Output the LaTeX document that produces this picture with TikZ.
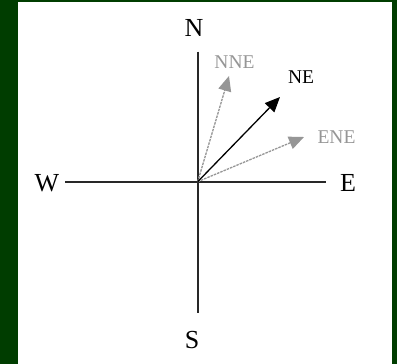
\documentclass[tikz,border=0pt]{standalone}
\usepackage{fontspec}
\setmainfont{Liberation Serif}
\usetikzlibrary{arrows.meta}
\definecolor{bggreen}{RGB}{0,61,0}
\definecolor{lightg}{RGB}{150,150,150}
\definecolor{axisg}{RGB}{40,40,40}
\begin{document}
\begin{tikzpicture}[x=1pt,y=-1pt,
  bigl/.style={font=\fontsize{26}{28}\selectfont, inner sep=0pt},
  smalll/.style={font=\fontsize{19.5}{21}\selectfont, inner sep=0pt},
  axisl/.style={draw=axisg, line width=1.6pt},
  greyarr/.style={draw=lightg, line width=1.3pt, dash pattern=on 2.5pt off 1pt, -{Triangle[length=15pt,width=13pt]}, lightg},
  blackarr/.style={draw=black, line width=1.3pt, -{Triangle[length=15pt,width=13pt]}}]
\useasboundingbox (0,0) rectangle (397,364);
\fill[bggreen] (0,0) rectangle (397,364);
\fill[white] (18,2) rectangle (392,364);
\coordinate (O) at (197.7,181.7);
\coordinate (top) at (197.7,51.7);
\coordinate (bot) at (197.7,313);
\coordinate (left) at (65,181.7);
\coordinate (right) at (326,181.7);
\coordinate (tNNE) at (229,76);
\coordinate (tNE) at (280,97);
\coordinate (tENE) at (304,137);
\draw[axisl] (top) -- (bot);
\draw[axisl] (left) -- (right);
\draw[greyarr] (O) -- (tNNE);
\draw[greyarr] (O) -- (tENE);
\draw[blackarr] (O) -- (tNE);
\node[bigl] (N) at (194,28) {N};
\node[bigl] (W) at (47,183) {W};
\node[bigl] (E) at (348,183) {E};
\node[bigl] (S) at (192,340) {S};
\node[smalll, text=lightg] (lNNE) at (234.5,62) {NNE};
\node[smalll] (lNE) at (301,77) {NE};
\node[smalll, text=lightg] (lENE) at (336.5,137) {ENE};
\end{tikzpicture}
\end{document}
